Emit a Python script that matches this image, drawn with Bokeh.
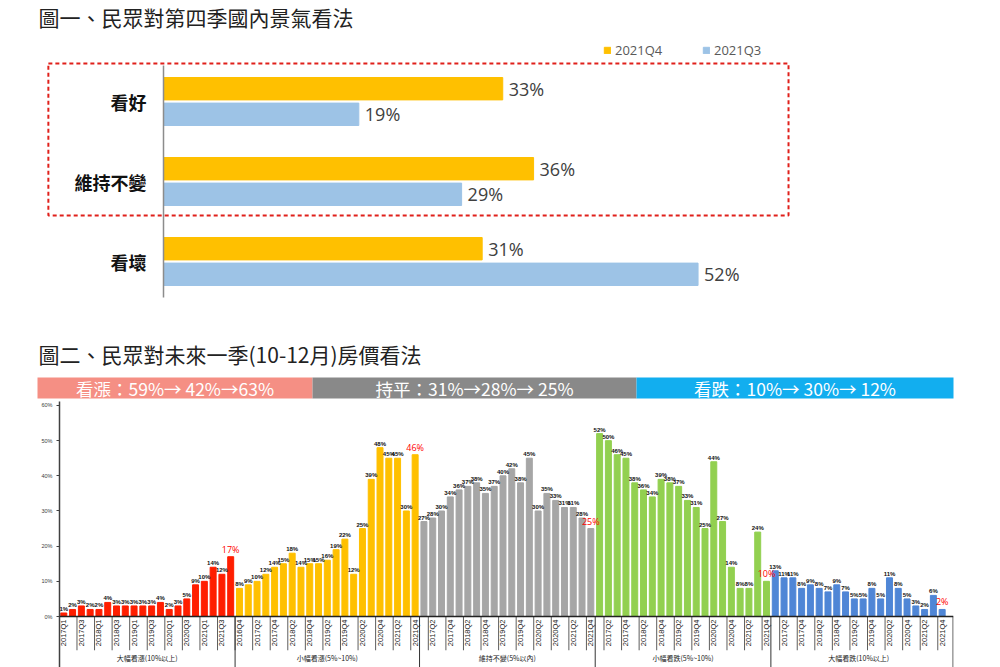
import math
from bokeh.plotting import figure
from bokeh.models import (ColumnDataSource, Range1d, FixedTicker, Span, BoxAnnotation,
                          Legend, LegendItem, Label)
from bokeh.transform import dodge
from bokeh.core.properties import value
from bokeh.embed import file_html
from bokeh.resources import INLINE

# ---------------- data: figure 1 ----------------
outlook_cats = ["看好", "維持不變", "看壞"]
q4_2021 = [33, 36, 31]
q3_2021 = [19, 29, 52]
series_names = ["2021Q4", "2021Q3"]
title1 = "圖一、民眾對第四季國內景氣看法"

# ---------------- data: figure 2 ----------------
title2 = "圖二、民眾對未來一季(10-12月)房價看法"
header_texts = ["看漲：59%→ 42%→63%", "持平：31%→28%→ 25%", "看跌：10%→ 30%→ 12%"]
group_names = ["大幅看漲(10%以上)", "小幅看漲(5%~10%)", "維持不變(5%以內)",
               "小幅看跌(5%~10%)", "大幅看跌(10%以上)"]
quarters = ["2016Q4", "2017Q1", "2017Q2", "2017Q3", "2017Q4", "2018Q1", "2018Q2",
            "2018Q3", "2018Q4", "2019Q1", "2019Q2", "2019Q3", "2019Q4", "2020Q1",
            "2020Q2", "2020Q3", "2020Q4", "2021Q1", "2021Q2", "2021Q3", "2021Q4"]
big_up = [1, 2, 3, 2, 2, 4, 3, 3, 3, 3, 3, 4, 2, 3, 5, 9, 10, 14, 12, 17]
small_up = [8, 9, 10, 12, 14, 15, 18, 14, 15, 15, 16, 19, 22, 12, 25, 39, 48, 45, 45, 30, 46]
flat = [27, 28, 30, 34, 36, 37, 38, 35, 37, 40, 42, 38, 45, 30, 35, 33, 31, 31, 28, 25]
small_down = [52, 50, 46, 45, 38, 36, 34, 39, 38, 37, 33, 31, 25, 44, 27, 14, 8, 8, 24, 10]
big_down = [13, 11, 11, 8, 9, 8, 7, 9, 7, 5, 5, 8, 5, 11, 8, 5, 3, 2, 6, 2]
y_ticks = [0, 10, 20, 30, 40, 50, 60]

# ---------------- styles ----------------
CJK = "Noto Sans CJK TC"
LAT = "Open Sans"
C_Q4 = "#FFC000"
C_Q3 = "#9DC3E6"
group_colors = ["#FF1E00", "#FFC000", "#A6A6A6", "#92D050", "#4F86D6"]
header_colors = ["#F58F84", "#898989", "#12AEEF"]


def clean(p):
    p.outline_line_color = None
    p.background_fill_color = "white"
    p.border_fill_color = "white"
    p.grid.visible = False


# =============== Figure 1 ===============
ncat = len(outlook_cats)
ypos = [ncat - 1 - i for i in range(ncat)]
srcA = ColumnDataSource(dict(
    cat=outlook_cats, y=ypos, q4=q4_2021, q3=q3_2021,
    q4l=[f"{v}%" for v in q4_2021], q3l=[f"{v}%" for v in q3_2021]))

HA = 335
pA = figure(width=1000, height=HA, x_range=Range1d(-15.856, 81.42),
            y_range=Range1d(-0.925, 3.2625), output_backend="svg",
            toolbar_location=None, x_axis_location=None, y_axis_location=None,
            min_border=0)
clean(pA)
pA.add_layout(Label(x=38, y=HA - 16, x_units="screen", y_units="screen", text=title1,
                    text_font=CJK, text_font_size="21px", text_baseline="middle",
                    text_align="left", text_color="#222222"))

OFF = 0.16
H = 0.28
r4 = pA.hbar(y=dodge("y", OFF), right="q4", left=0, height=H, color=C_Q4, source=srcA)
r3 = pA.hbar(y=dodge("y", -OFF), right="q3", left=0, height=H, color=C_Q3, source=srcA)
for fld, off in (("q4", OFF), ("q3", -OFF)):
    pA.text(x=fld, y=dodge("y", off), text=fld + "l", source=srcA, x_offset=6,
            text_baseline="middle", text_align="left", text_font=value(LAT),
            text_font_size="18px", text_color="#404040")
pA.text(x=0, y="y", text="cat", source=srcA, x_offset=-17, text_align="right",
        text_baseline="middle", text_font=value(CJK), text_font_size="18px",
        text_font_style="bold", text_color="#111111")
pA.segment(x0=0, x1=0, y0=min(ypos) - 0.45, y1=max(ypos) + 0.45,
           line_color="#8C8C8C", line_width=1.5)
pA.add_layout(BoxAnnotation(left=-11.2, right=60.8, top=max(ypos) + 0.475,
                            bottom=ypos[1] - 0.425, fill_color=None, fill_alpha=0,
                            line_color="#E0201B", line_alpha=1, line_dash="4 3",
                            line_width=2))
legA = Legend(items=[LegendItem(label=series_names[0], renderers=[r4]),
                     LegendItem(label=series_names[1], renderers=[r3])],
              orientation="horizontal", location=(603, HA - 59), padding=0, margin=0,
              border_line_color=None, background_fill_alpha=0, glyph_width=8,
              glyph_height=8, label_standoff=4, label_width=78, spacing=9,
              label_text_font=LAT, label_text_font_size="13px",
              label_text_color="#595959")
pA.add_layout(legA)

# =============== Header (title 2 + summary bar) ===============
HH = 66
pH = figure(width=1000, height=HH, x_range=Range1d(0, 1000), y_range=Range1d(HH, 0),
            output_backend="svg", toolbar_location=None, x_axis_location=None,
            y_axis_location=None, min_border=0)
clean(pH)
pH.text(x=[38], y=[18], text=[title2], text_font=value(CJK), text_font_size="21px",
        text_baseline="middle", text_align="left", text_color="#222222")
edges = [37, 312, 636, 953]
pH.quad(left=edges[:-1], right=edges[1:], top=42, bottom=63, color=header_colors,
        line_color=None)
pH.text(x=[(a + b) / 2 for a, b in zip(edges[:-1], edges[1:])], y=[52.5] * 3,
        text=header_texts, text_font=value(CJK), text_font_size="17.5px",
        text_align="center", text_baseline="middle", text_color="white")

# =============== Figure 2 ===============
groups = [big_up, small_up, flat, small_down, big_down]
xs, vals, cols, qlab = [], [], [], []
bounds = [-0.5]
last_x, last_v = [], []
i = 0
for vals_g, col in zip(groups, group_colors):
    qs = quarters[-len(vals_g):]
    for k, v in enumerate(vals_g):
        xs.append(i)
        vals.append(v)
        cols.append(col)
        qlab.append(qs[k])
        i += 1
    last_x.append(i - 1)
    last_v.append(vals_g[-1])
    bounds.append(i - 0.5)

X_END = 101.29
Y_START = -14.5
pC = figure(width=1000, height=266, x_range=Range1d(-0.49, X_END),
            y_range=Range1d(Y_START, 61.13), output_backend="svg",
            toolbar_location=None, x_axis_location=None, y_axis_location="left",
            min_border_left=59, min_border_right=47, min_border_top=0,
            min_border_bottom=0)
clean(pC)
pC.yaxis.ticker = FixedTicker(ticks=y_ticks, minor_ticks=[])
pC.yaxis.major_label_overrides = {t: f"{t}%" for t in y_ticks}
pC.yaxis.axis_line_color = "#404040"
pC.yaxis.axis_line_width = 1.5
pC.yaxis.major_tick_out = 3
pC.yaxis.major_tick_in = 0
pC.yaxis.major_tick_line_color = "#404040"
pC.yaxis.major_label_text_font_size = "5.5px"
pC.yaxis.major_label_text_color = "#404040"
pC.yaxis.major_label_standoff = 4

normal = [j for j in range(len(xs)) if xs[j] not in last_x]
srcC = ColumnDataSource(dict(x=xs, top=vals, color=cols))
pC.vbar(x="x", top="top", bottom=0, width=0.68, color="color", source=srcC)
pC.text(x=[xs[j] for j in normal], y=[vals[j] for j in normal],
        text=[f"{vals[j]}%" for j in normal], y_offset=-1, text_align="center",
        text_baseline="bottom", text_font=value("Liberation Sans"),
        text_font_size="6px", text_font_style="bold", text_color="#111111")
pC.text(x=last_x, y=last_v, text=[f"{v}%" for v in last_v], y_offset=-1,
        text_align="center", text_baseline="bottom", text_font=value(LAT),
        text_font_size="9px", text_color="#FF0000")

pC.add_layout(Span(location=0, dimension="width", line_color="#222222", line_width=1.5))

lab_idx = [j for j in range(len(xs)) if xs[j] % 2 == 0]
pC.text(x=[xs[j] for j in lab_idx], y=[0] * len(lab_idx),
        text=[qlab[j] for j in lab_idx], angle=math.pi / 2, y_offset=3,
        text_align="right", text_baseline="middle", text_font=value("Liberation Sans"),
        text_font_size="7.5px", text_color="#222222")
pC.segment(x0=[xs[j] - 0.5 for j in lab_idx], x1=[xs[j] - 0.5 for j in lab_idx],
           y0=0, y1=-9.6, line_color="#333333", line_width=0.8)
sep = bounds[1:-1] + [X_END - 0.05]
pC.segment(x0=sep, x1=sep, y0=0, y1=Y_START, line_color="#333333", line_width=1)
centers = [(a + b) / 2 for a, b in zip(bounds[:-1], bounds[1:])]
pC.text(x=centers, y=[-11.7] * len(centers), text=group_names, text_font=value(CJK),
        text_font_size="7px", text_align="center", text_baseline="middle",
        text_color="#222222")

open("out.html", "w").write(file_html([pA, pH, pC], INLINE))
